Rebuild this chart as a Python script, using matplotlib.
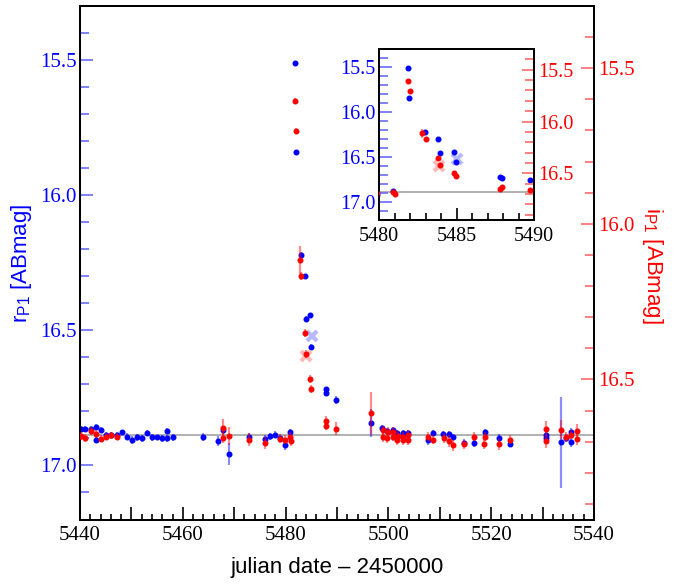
import matplotlib
matplotlib.use('Agg')
import matplotlib.pyplot as plt
from matplotlib.ticker import MultipleLocator, FuncFormatter

plt.rcParams['mathtext.fontset'] = 'custom'
plt.rcParams['mathtext.rm'] = 'Liberation Sans'
plt.rcParams['mathtext.it'] = 'Liberation Sans:italic'
plt.rcParams['mathtext.bf'] = 'Liberation Sans:bold'

# ---------------- data ----------------
# r_P1 band (left axis)
r_date = [5440.1, 5441.0, 5442.1, 5443.2, 5443.2, 5444.0, 5445.1, 5446.1, 5447.2,
          5448.2, 5449.1, 5450.1, 5451.1, 5452.1, 5453.0, 5454.0, 5455.0, 5456.0,
          5457.0, 5457.0, 5458.1, 5464.0, 5466.9, 5467.9, 5469.0, 5472.9, 5476.0,
          5477.0, 5477.9, 5478.9, 5479.9, 5480.9, 5481.85, 5481.95, 5482.95,
          5483.83, 5483.96, 5484.84, 5484.97, 5487.8, 5487.94, 5489.75, 5496.7,
          5498.7, 5499.8, 5500.8, 5501.7, 5502.8, 5503.75, 5507.8, 5508.7, 5510.7,
          5511.7, 5512.6, 5514.7, 5516.7, 5518.8, 5521.6, 5523.7, 5530.6, 5530.7,
          5533.5, 5534.6, 5535.6, 5535.6]
r_mag = [16.864, 16.864, 16.864, 16.857, 16.905, 16.868, 16.886, 16.886, 16.886,
         16.878, 16.893, 16.905, 16.896, 16.900, 16.879, 16.896, 16.896, 16.900,
         16.872, 16.900, 16.896, 16.895, 16.910, 16.870, 16.957, 16.895, 16.903,
         16.892, 16.886, 16.900, 16.926, 16.878, 15.512, 15.842, 16.222,
         16.300, 16.457, 16.445, 16.560, 16.718, 16.733, 16.757, 16.842,
         16.862, 16.873, 16.868, 16.880, 16.880, 16.880, 16.907, 16.880, 16.885,
         16.885, 16.895, 16.918, 16.917, 16.878, 16.897, 16.920, 16.889, 16.900,
         16.915, 16.897, 16.876, 16.913]
r_err = [0.010, 0.010, 0.010, 0.010, 0.012, 0.010, 0.010, 0.010, 0.010,
         0.010, 0.012, 0.015, 0.012, 0.012, 0.010, 0.012, 0.010, 0.012,
         0.010, 0.012, 0.012, 0.015, 0.018, 0.015, 0.040, 0.015, 0.015,
         0.012, 0.012, 0.012, 0.015, 0.012, 0.008, 0.010, 0.010,
         0.010, 0.010, 0.010, 0.010, 0.010, 0.010, 0.015, 0.052,
         0.012, 0.012, 0.012, 0.012, 0.012, 0.012, 0.018, 0.012, 0.012,
         0.012, 0.012, 0.015, 0.015, 0.012, 0.015, 0.012, 0.015, 0.015,
         0.170, 0.015, 0.015, 0.018]

# i_P1 band (right axis)
i_date = [5440.1, 5441.0, 5442.1, 5443.2, 5444.0, 5445.1, 5446.1, 5447.2,
          5467.8, 5467.9, 5469.0, 5472.9, 5476.0, 5478.9, 5479.9, 5480.9, 5481.0,
          5481.85, 5482.0, 5482.8, 5483.0, 5483.83, 5483.96, 5484.82, 5484.97,
          5487.8, 5487.94, 5489.75, 5496.7, 5498.9, 5498.9, 5499.9, 5499.8,
          5500.8, 5500.8, 5501.8, 5501.7, 5502.8, 5502.8, 5503.75, 5503.75,
          5507.8, 5508.7, 5510.8, 5511.7, 5512.6, 5514.7, 5516.7, 5518.8, 5518.6,
          5521.6, 5523.7, 5530.6, 5530.6, 5533.5, 5534.6, 5535.6, 5536.6, 5536.6]
i_mag = [16.682, 16.688, 16.666, 16.675, 16.690, 16.684, 16.680, 16.684,
         16.657, 16.688, 16.682, 16.693, 16.704, 16.690, 16.693, 16.684, 16.698,
         15.605, 15.702, 16.115, 16.168, 16.350, 16.418, 16.498, 16.530,
         16.648, 16.634, 16.658, 16.607, 16.664, 16.686, 16.669, 16.688,
         16.669, 16.684, 16.682, 16.695, 16.684, 16.695, 16.677, 16.695,
         16.684, 16.693, 16.688, 16.698, 16.712, 16.709, 16.684, 16.684, 16.706,
         16.709, 16.693, 16.658, 16.699, 16.661, 16.685, 16.677, 16.667, 16.690]
i_err = [0.012, 0.012, 0.012, 0.012, 0.012, 0.012, 0.012, 0.012,
         0.030, 0.015, 0.030, 0.020, 0.018, 0.015, 0.015, 0.015, 0.015,
         0.008, 0.010, 0.045, 0.012, 0.012, 0.012, 0.012, 0.012,
         0.015, 0.015, 0.020, 0.068, 0.015, 0.015, 0.015, 0.015,
         0.015, 0.015, 0.015, 0.015, 0.015, 0.015, 0.015, 0.015,
         0.015, 0.015, 0.015, 0.018, 0.018, 0.015, 0.015, 0.015, 0.018,
         0.018, 0.015, 0.025, 0.020, 0.030, 0.015, 0.015, 0.025, 0.020]

# special (crossed) measurements
r_cross_date = [5485.05]
r_cross_mag = [16.52]
i_cross_date = [5483.9]
i_cross_mag = [16.425]

baseline_r = 16.888

# ---------------- styling constants ----------------
BLUE = (0.0, 0.0, 1.0)
RED = (1.0, 0.0, 0.0)
BLUE_E = (0.0, 0.0, 1.0, 0.45)
RED_E = (1.0, 0.0, 0.0, 0.45)
BLUE_T = (0.42, 0.42, 1.0)
RED_T = (1.0, 0.42, 0.42)
SERIF = 'Liberation Serif'

W, H = 685, 584
fig = plt.figure(figsize=(W / 100, H / 100), dpi=100)


def draw(axl, axr):
    axl.axhline(baseline_r, color='#aaaaaa', lw=1.3, zorder=1)
    axl.plot(r_cross_date, r_cross_mag, ls='none', marker='x', ms=7, mew=3,
             color=(0.72, 0.72, 1.0), zorder=2)
    axl.errorbar(r_date, r_mag, yerr=r_err, fmt='o', ms=3.3, color=BLUE,
                 mec=BLUE, ecolor=BLUE_E, elinewidth=1.6, capsize=0, zorder=3)
    axr.plot(i_cross_date, i_cross_mag, ls='none', marker='x', ms=7, mew=3,
             color=(1.0, 0.72, 0.72), zorder=2)
    axr.errorbar(i_date, i_mag, yerr=i_err, fmt='o', ms=3.3, color=RED,
                 mec=RED, ecolor=RED_E, elinewidth=1.6, capsize=0, zorder=3)


def style(axl, axr, xmaj, xmin, fs, xfmt, lmaj, lmin, xlmaj, xlmin, xpad):
    for a in (axl, axr):
        for s in a.spines.values():
            s.set_color('black')
            s.set_linewidth(1.4)
    axl.set_ylim(17.2, 15.3)
    axr.set_ylim(16.95, 15.3)
    axl.xaxis.set_major_locator(MultipleLocator(xmaj))
    axl.xaxis.set_minor_locator(MultipleLocator(xmin))
    axl.xaxis.set_major_formatter(xfmt)
    for a in (axl, axr):
        a.yaxis.set_major_locator(MultipleLocator(0.5))
        a.yaxis.set_minor_locator(MultipleLocator(0.1))
        a.yaxis.set_major_formatter(FuncFormatter(lambda v, p: '%.1f' % v))
    axl.tick_params(axis='x', which='both', direction='in', top=False,
                    color='black', width=1.2, labelsize=fs,
                    labelfontfamily=SERIF, pad=xpad)
    axl.tick_params(axis='x', which='major', length=xlmaj)
    axl.tick_params(axis='x', which='minor', length=xlmin)
    axl.tick_params(axis='y', which='both', direction='in', left=True,
                    right=False, color=BLUE_T, width=1.2, labelcolor=BLUE,
                    labelsize=fs, labelfontfamily=SERIF, pad=2.5)
    axl.tick_params(axis='y', which='major', length=lmaj)
    axl.tick_params(axis='y', which='minor', length=lmin)
    axr.tick_params(axis='y', which='both', direction='in', right=True,
                    left=False, color=RED_T, width=1.2, labelcolor=RED,
                    labelsize=fs, labelfontfamily=SERIF, pad=3)
    axr.tick_params(axis='y', which='major', length=lmaj)
    axr.tick_params(axis='y', which='minor', length=lmin)


# ---------------- main panel ----------------
ax = fig.add_axes([80 / W, 1 - 519.5 / H, 514 / W, 513.5 / H])
ax2 = ax.twinx()
ax.set_xlim(5440, 5540)
draw(ax, ax2)
main_fmt = FuncFormatter(lambda v, p: ('%d' % round(v)) if round(v) % 20 == 0 else '')
style(ax, ax2, 10, 2, 15, main_fmt, 9.5, 6.5, 9.5, 4.5, 5)

fig.text(22 / W, 1 - 263 / H, r'r$_{\mathrm{P1}}$ [ABmag]', rotation=90,
         ha='center', va='center', color=BLUE, fontsize=16,
         family='Liberation Sans')
fig.text(652 / W, 1 - 265 / H, r'i$_{\mathrm{P1}}$ [ABmag]', rotation=270,
         ha='center', va='center', color=RED, fontsize=16,
         family='Liberation Sans')
fig.text(337 / W, 1 - 568 / H, 'julian date \u2013 2450000', ha='center',
         va='center', color='black', fontsize=16, family='Liberation Sans')

# ---------------- inset ----------------
axi = fig.add_axes([379 / W, 1 - 220 / H, 155 / W, 171 / H], zorder=5)
axi.set_facecolor('white')
axi2 = axi.twinx()
axi2.set_zorder(6)
axi.set_xlim(5480, 5490)
draw(axi, axi2)
inset_fmt = FuncFormatter(lambda v, p: '%d' % round(v))
style(axi, axi2, 5, 1, 14.5, inset_fmt, 9, 6.5, 8.5, 5, 5)

fig.savefig('out.png', dpi=100)
